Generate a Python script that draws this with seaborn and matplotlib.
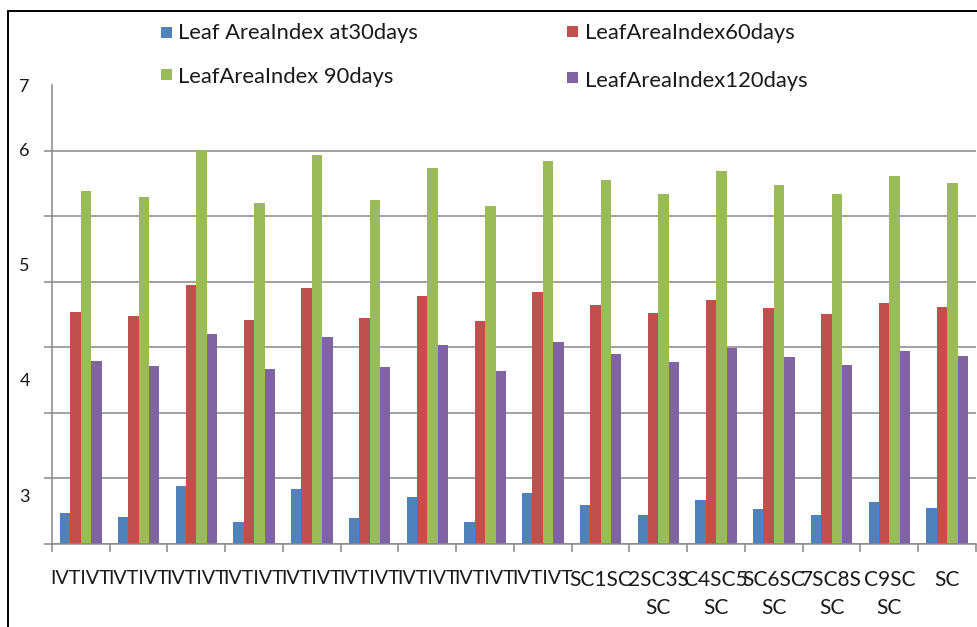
import numpy as np
import pandas as pd
import matplotlib
matplotlib.use("Agg")
import matplotlib.pyplot as plt
from matplotlib.patches import Rectangle
from matplotlib.lines import Line2D
import seaborn as sns

# ---- data -------------------------------------------------------------
plot_ids = [str(i) for i in range(1, 17)]
tick_labels = [
    "IVTIVT", "IVTIVT", "IVTIVT", "IVTIVT", "IVTIVT", "IVTIVT", "IVTIVT",
    "IVTIVT", "IVTIVT",
    "SC1SC", "2SC3S\nSC", "C4SC5\nSC", "SC6SC\nSC", "7SC8S\nSC", "C9SC\nSC",
    "SC",
]
series_names = [
    "Leaf AreaIndex at30days",
    "LeafAreaIndex60days",
    "LeafAreaIndex 90days",
    "LeafAreaIndex120days",
]
lai_30 = [2.84, 2.81, 3.08, 2.77, 3.05, 2.80, 2.98, 2.77,
          3.02, 2.91, 2.83, 2.96, 2.88, 2.83, 2.94, 2.89]
lai_60 = [4.59, 4.55, 4.82, 4.52, 4.80, 4.54, 4.73, 4.51,
          4.76, 4.65, 4.58, 4.69, 4.62, 4.57, 4.67, 4.63]
lai_90 = [5.64, 5.59, 5.99, 5.53, 5.95, 5.56, 5.84, 5.51,
          5.90, 5.73, 5.61, 5.81, 5.69, 5.61, 5.77, 5.71]
lai_120 = [4.16, 4.12, 4.40, 4.09, 4.37, 4.11, 4.30, 4.08,
           4.33, 4.22, 4.15, 4.28, 4.20, 4.13, 4.25, 4.21]
ytick_values = [3, 4, 5, 6]
ytick_text = ["3", "4", "5", "6", "7"]

colors = ["#4F81BD", "#C0504D", "#9BBB59", "#8064A2"]

df = pd.DataFrame({
    "plot": plot_ids * 4,
    "stage": np.repeat(series_names, len(plot_ids)),
    "lai": lai_30 + lai_60 + lai_90 + lai_120,
})

# ---- figure -----------------------------------------------------------
sns.set_style("white")
plt.rcParams["font.family"] = ["Lato", "DejaVu Sans"]

W, H = 978, 627
fig = plt.figure(figsize=(W / 100, H / 100), dpi=100)
ax = fig.add_axes([52 / W, 1 - 544 / H, (976 - 52) / W, (544 - 85) / H])

sns.barplot(data=df, x="plot", y="lai", hue="stage", order=plot_ids,
            hue_order=series_names, palette=colors, saturation=1,
            width=0.72, gap=0, errorbar=None, legend=False, ax=ax,
            linewidth=0)

grid_color = "#878787"
ymin, ymax = 2.575, 6.558
ax.set_ylim(ymin, ymax)
ax.set_xlim(-0.5, len(plot_ids) - 0.5)
ax.set_xlabel("")
ax.set_ylabel("")

# gridlines and small outward ticks on an even spacing
ax.set_yticks(np.linspace(ymin, ymax, 8), minor=True)
ax.grid(which="minor", axis="y", color=grid_color, linewidth=1.1)
ax.grid(which="major", visible=False)
ax.set_axisbelow(True)

ax.set_yticks(ytick_values + [ymax])
ax.set_yticklabels(ytick_text)
ax.tick_params(axis="y", which="major", length=0, pad=16, labelsize=13,
               labelcolor="#1a1a1a")
ax.tick_params(axis="y", which="minor", length=6, width=1.1,
               color=grid_color, direction="out", left=True)

ax.set_xticks(np.arange(len(plot_ids)))
ax.set_xticklabels(tick_labels, linespacing=1.45)
ax.set_xticks(np.arange(len(plot_ids) + 1) - 0.5, minor=True)
ax.tick_params(axis="x", which="major", length=0, pad=19, labelsize=15,
               labelcolor="#1a1a1a")
ax.tick_params(axis="x", which="minor", length=6, width=1.1,
               color=grid_color, direction="out", bottom=True)
# the IVT labels are set a touch smaller so neighbouring labels just touch
for lbl in ax.get_xticklabels():
    if lbl.get_text().startswith("IVT"):
        lbl.set_fontsize(14.2)

for side in ["top", "right"]:
    ax.spines[side].set_visible(False)
for side in ["left", "bottom"]:
    ax.spines[side].set_color(grid_color)
    ax.spines[side].set_linewidth(1.1)

# ---- legend, two rows of two entries --------------------------------------
legend_slots = [
    (161, 27, 178, 39),   # marker x, marker top, text x, text baseline
    (567, 26, 585, 39),
    (161, 69, 178, 83),
    (567, 72, 585, 87),
]
for (mx, my, tx, ty), name, col in zip(legend_slots, series_names, colors):
    fig.add_artist(Rectangle((mx / W, 1 - (my + 11) / H), 11 / W, 11 / H,
                             transform=fig.transFigure, facecolor=col,
                             edgecolor="none"))
    fig.text(tx / W, 1 - ty / H, name, fontsize=15.8, color="#1a1a1a",
             ha="left", va="baseline")

# outer frame (top and left edges)
fig.add_artist(Line2D([8 / W, 1.0], [1 - 11 / H, 1 - 11 / H],
                      transform=fig.transFigure, color="black", linewidth=1.4))
fig.add_artist(Line2D([8 / W, 8 / W], [0, 1 - 11 / H],
                      transform=fig.transFigure, color="black", linewidth=1.4))

fig.savefig("out.png", dpi=100, facecolor="white")
